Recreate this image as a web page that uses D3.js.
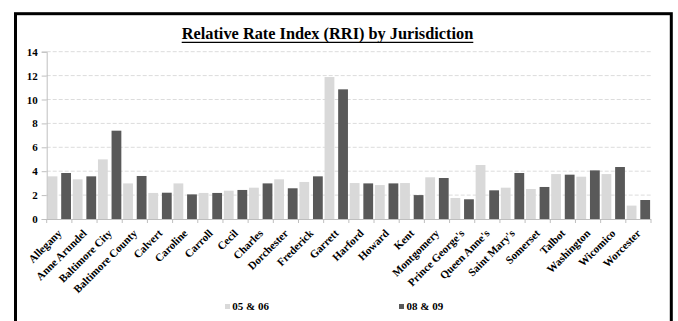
<!DOCTYPE html>
<html>
<head>
<meta charset="utf-8">
<script src="https://cdn.jsdelivr.net/npm/d3@7"></script>
<style>
  html, body { margin: 0; padding: 0; background: #fff; }
  svg { display: block; }
  svg text { font-family: 'Liberation Serif', 'DejaVu Serif', 'Times New Roman', serif !important; font-weight: bold; fill: #000; }
</style>
</head>
<body>
<svg id="chart" width="678" height="321"></svg>
<script>
// Jurisdictions along the x axis
const jurisdictions = [
  "Allegany", "Anne Arundel", "Baltimore City", "Baltimore County", "Calvert",
  "Caroline", "Carroll", "Cecil", "Charles", "Dorchester", "Frederick", "Garrett",
  "Harford", "Howard", "Kent", "Montgomery", "Prince George's", "Queen Anne's",
  "Saint Mary's", "Somerset", "Talbot", "Washington", "Wicomico", "Worcester"
];

// RRI values per period
const rri0506 = [3.57, 3.32, 4.99, 2.98, 2.18, 2.98, 2.18, 2.37, 2.62, 3.32, 3.10, 11.88,
                 3.01, 2.84, 3.01, 3.49, 1.76, 4.52, 2.62, 2.51, 3.76, 3.54, 3.76, 1.12];
const rri0809 = [3.85, 3.57, 7.39, 3.60, 2.20, 2.06, 2.18, 2.43, 2.98, 2.57, 3.57, 10.85,
                 2.98, 2.98, 2.00, 3.43, 1.65, 2.40, 3.85, 2.68, 3.71, 4.07, 4.35, 1.59];

const seriesNames = ["05 & 06", "08 & 09"];
const yTicks = [0, 2, 4, 6, 8, 10, 12, 14];

const colors = ["#d9d9d9", "#595959"];
const serif = "'Liberation Serif', 'DejaVu Serif', serif";

const svg = d3.select("#chart");

// Outer frame
svg.append("rect")
  .attr("x", 15.5).attr("y", 13.7)
  .attr("width", 655.8).attr("height", 320)
  .attr("fill", "#fff").attr("stroke", "#000").attr("stroke-width", 3);

const plot = { left: 46.7, right: 651, top: 51.7, bottom: 219 };

const x0 = d3.scaleBand().domain(jurisdictions).range([plot.left, plot.right]).padding(0);
const x1 = d3.scaleBand().domain(seriesNames).range([0, x0.bandwidth()])
  .paddingInner(0.28).paddingOuter(0.066);
const y = d3.scaleLinear().domain([0, 14]).range([plot.bottom, plot.top]);

// Title with underline
svg.append("text")
  .attr("x", 327.5).attr("y", 39.3)
  .attr("text-anchor", "middle")
  .attr("font-family", serif)
  .attr("font-size", 17.5)
  .attr("textLength", 291.6)
  .attr("lengthAdjust", "spacingAndGlyphs")
  .text("Relative Rate Index (RRI) by Jurisdiction");
svg.append("line")
  .attr("x1", 181.7).attr("x2", 473.3).attr("y1", 42.4).attr("y2", 42.4)
  .attr("stroke", "#000").attr("stroke-width", 1.3);

// Horizontal gridlines
svg.append("g")
  .selectAll("line")
  .data(yTicks.filter(d => d > 0))
  .join("line")
  .attr("x1", plot.left).attr("x2", plot.right)
  .attr("y1", d => y(d)).attr("y2", d => y(d))
  .attr("stroke", "#dcdcdc").attr("stroke-width", 1)
  .attr("stroke-dasharray", "4,2");

// Bars
const groups = svg.append("g")
  .selectAll("g")
  .data(jurisdictions.map((name, i) => ({ name, values: [rri0506[i], rri0809[i]] })))
  .join("g")
  .attr("transform", d => `translate(${x0(d.name)},0)`);

groups.selectAll("rect")
  .data(d => d.values.map((v, k) => ({ key: seriesNames[k], value: v, k })))
  .join("rect")
  .attr("x", d => x1(d.key))
  .attr("width", x1.bandwidth())
  .attr("y", d => y(d.value))
  .attr("height", d => y(0) - y(d.value))
  .attr("fill", d => colors[d.k]);

// Y axis
const yAxis = svg.append("g")
  .attr("transform", `translate(${plot.left},0)`)
  .call(d3.axisLeft(y).tickValues(yTicks).tickSize(5).tickPadding(4).tickFormat(d3.format("d")))
  .attr("font-family", serif);
yAxis.select(".domain").attr("stroke", "#bfbfbf");
yAxis.selectAll(".tick line").attr("stroke", "#bfbfbf");
yAxis.selectAll(".tick text")
  .attr("font-size", 11)
  .attr("font-family", serif)
  .attr("font-weight", "bold")
  .attr("fill", "#000");

// X axis: ticks at category boundaries
const xAxisG = svg.append("g");
xAxisG.append("line")
  .attr("x1", plot.left).attr("x2", plot.right)
  .attr("y1", plot.bottom + 0.5).attr("y2", plot.bottom + 0.5)
  .attr("stroke", "#bfbfbf");
const boundaries = jurisdictions.map(d => x0(d)).concat([plot.right]);
xAxisG.selectAll("line.tk")
  .data(boundaries)
  .join("line")
  .attr("class", "tk")
  .attr("x1", d => d).attr("x2", d => d)
  .attr("y1", plot.bottom).attr("y2", plot.bottom + 4)
  .attr("stroke", "#bfbfbf");

xAxisG.selectAll("text")
  .data(jurisdictions)
  .join("text")
  .attr("font-family", serif)
  .attr("font-size", 11)
  .attr("text-anchor", "end")
  .attr("transform", d => `translate(${x0(d) + x0.bandwidth() / 2 + 3},${plot.bottom + 15}) rotate(-45)`)
  .text(d => d);

// Legend
const legendPos = [{ sx: 225, tx: 232.3 }, { sx: 399, tx: 406.5 }];
const legend = svg.append("g")
  .selectAll("g")
  .data(seriesNames)
  .join("g");
legend.append("rect")
  .attr("x", (d, i) => legendPos[i].sx).attr("y", 304)
  .attr("width", 5).attr("height", 5)
  .attr("fill", (d, i) => colors[i]);
legend.append("text")
  .attr("x", (d, i) => legendPos[i].tx).attr("y", 309.5)
  .attr("font-family", serif)
  .attr("font-size", 11)
  .text(d => d);
</script>
</body>
</html>
